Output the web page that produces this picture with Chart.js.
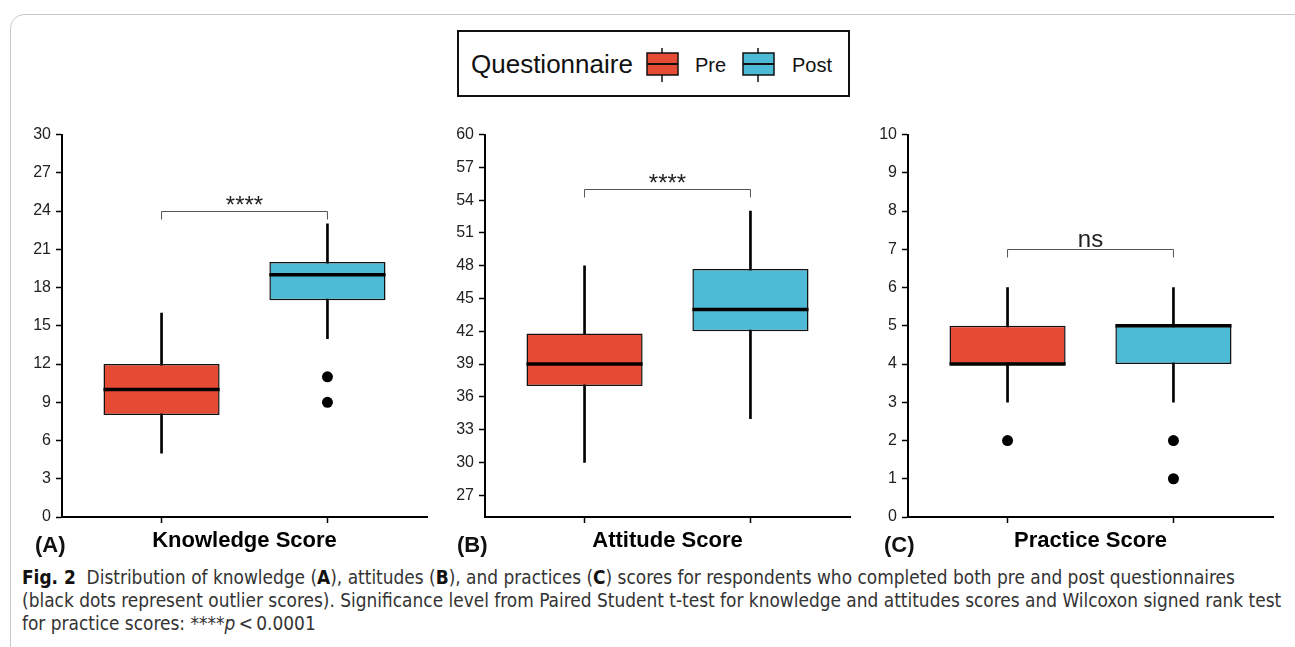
<!DOCTYPE html>
<html lang="en">
<head>
<meta charset="UTF-8">
<title>Fig. 2 - Knowledge, attitude and practice scores</title>
<script src="https://cdn.jsdelivr.net/npm/chart.js"></script>
<style>
  * { margin: 0; padding: 0; box-sizing: border-box; }
  body {
    width: 1295px; height: 647px; overflow: hidden; position: relative;
    background: #fff; font-family: 'Liberation Sans', Arial, sans-serif; color: #111;
  }
  .frame {
    position: absolute; left: 10px; top: 14px; width: 1300px; height: 700px;
    border: 1px solid #c9c9c9; border-radius: 14px;
  }
  .panel { position: absolute; top: 120px; }
  .tag { position: absolute; top: 532px; font-weight: bold; font-size: 22px; }
  .legend {
    position: absolute; left: 457px; top: 30px; width: 393px; height: 67px;
    border: 2px solid #111;
  }
  .legend span { position: absolute; white-space: nowrap; }
  .legend svg { position: absolute; }
  .caption {
    position: absolute; left: 22px; top: 566px; width: 1270px;
    font-family: 'Liberation Sans Narrow', 'DejaVu Sans Condensed', sans-serif;
    font-size: 18.9px; line-height: 23px; color: #333; white-space: nowrap;
  }
  .caption b { color: #111; }
</style>
</head>
<body>
<div class="frame"></div>

<div class="legend">
  <span style="left:12px; top:17px; font-size:26px;">Questionnaire</span>
  <svg style="left:181px; top:14px;" width="40" height="38">
    <line x1="22" y1="2" x2="22" y2="36" stroke="#111" stroke-width="1.5"/>
    <rect x="7" y="7" width="31" height="22" fill="#E64B35" stroke="#111" stroke-width="1.5"/>
    <line x1="7" y1="18" x2="38" y2="18" stroke="#111" stroke-width="2"/>
  </svg>
  <span style="left:236px; top:22px; font-size:20px;">Pre</span>
  <svg style="left:277px; top:14px;" width="40" height="38">
    <line x1="22" y1="2" x2="22" y2="36" stroke="#111" stroke-width="1.5"/>
    <rect x="7" y="7" width="31" height="22" fill="#4DBBD5" stroke="#111" stroke-width="1.5"/>
    <line x1="7" y1="18" x2="38" y2="18" stroke="#111" stroke-width="2"/>
  </svg>
  <span style="left:333px; top:22px; font-size:20px;">Post</span>
</div>

<canvas id="panel0" class="panel" style="left:0px" width="440" height="440"></canvas>
<canvas id="panel1" class="panel" style="left:423px" width="440" height="440"></canvas>
<canvas id="panel2" class="panel" style="left:846px" width="440" height="440"></canvas>

<div class="tag" style="left:35px">(A)</div>
<div class="tag" style="left:457px">(B)</div>
<div class="tag" style="left:884px">(C)</div>

<div class="caption">
  <b>Fig. 2</b>&nbsp; Distribution of knowledge (<b>A</b>), attitudes (<b>B</b>), and practices (<b>C</b>) scores for respondents who completed both pre and post questionnaires<br>
  (black dots represent outlier scores). Significance level from Paired Student t-test for knowledge and attitudes scores and Wilcoxon signed rank test<br>
  for practice scores: ****<i>p</i>&thinsp;&lt;&thinsp;0.0001
</div>

<script>
// groups and panels
const groups = ['Pre', 'Post'];
const groupColors = ['#E64B35', '#4DBBD5'];
const panelTitles = ['Knowledge Score', 'Attitude Score', 'Practice Score'];

// box statistics per panel, [Pre, Post]
const whiskerLow  = [[5, 14], [30, 34], [3, 3]];
const q1          = [[8, 17], [37, 42], [4, 4]];
const medians     = [[10, 19], [39, 44], [4, 5]];
const q3          = [[12, 20], [41.8, 47.7], [5, 5]];
const whiskerHigh = [[16, 23], [48, 53], [6, 6]];
const outliers    = [[[], [11, 9]], [[], []], [[2], [2, 1]]];

// y axes
const yMin = [0, 25, 0];
const yMax = [30, 60, 10];
const yTicks = [
  [0, 3, 6, 9, 12, 15, 18, 21, 24, 27, 30],
  [27, 30, 33, 36, 39, 42, 45, 48, 51, 54, 57, 60],
  [0, 1, 2, 3, 4, 5, 6, 7, 8, 9, 10]
];

// significance brackets
const sigLevel = [24, 55, 7];
const sigLabel = ['****', '****', 'ns'];

const FONT = "'Liberation Sans', Arial, sans-serif";

// medians and significance brackets, placed with the chart's own scales
const boxExtras = {
  id: 'boxExtras',
  afterDatasetsDraw(chart, args, opts) {
    const p = opts.panel;
    const { ctx } = chart;
    const x = chart.scales.x, y = chart.scales.y;
    const boxes = chart.getDatasetMeta(1).data;

    ctx.save();
    ctx.strokeStyle = '#000';
    ctx.lineWidth = 3.5;
    boxes.forEach((bar, i) => {
      const py = y.getPixelForValue(medians[p][i]);
      ctx.beginPath();
      ctx.moveTo(bar.x - bar.width / 2, py);
      ctx.lineTo(bar.x + bar.width / 2, py);
      ctx.stroke();
    });

    const x1 = x.getPixelForValue(1), x2 = x.getPixelForValue(2);
    const by = Math.round(y.getPixelForValue(sigLevel[p])) + 0.5;
    ctx.strokeStyle = '#555';
    ctx.lineWidth = 1;
    ctx.beginPath();
    ctx.moveTo(x1, by + 8); ctx.lineTo(x1, by); ctx.lineTo(x2, by); ctx.lineTo(x2, by + 8);
    ctx.stroke();

    const isStars = sigLabel[p] === '****';
    ctx.fillStyle = '#222';
    ctx.textAlign = 'center';
    ctx.textBaseline = 'alphabetic';
    ctx.font = (isStars ? '24px ' : '24px ') + FONT;
    ctx.fillText(sigLabel[p], (x1 + x2) / 2, by + (isStars ? 1 : -3));
    ctx.restore();
  }
};

function makeChart(p) {
  const boxData = groups.map((g, i) => ({ x: i + 1, y: [q1[p][i], q3[p][i]] }));
  const whiskerData = groups.map((g, i) => ({ x: i + 1, y: [whiskerLow[p][i], whiskerHigh[p][i]] }));
  const outlierData = [];
  outliers[p].forEach((list, i) => list.forEach(v => outlierData.push({ x: i + 1, y: v })));

  new Chart(document.getElementById('panel' + p), {
    type: 'bar',
    data: {
      datasets: [
        { type: 'scatter', label: 'Outliers', data: outlierData, pointRadius: 5.5,
          backgroundColor: '#000', borderWidth: 0, order: 0 },
        { label: 'Box', data: boxData, backgroundColor: groupColors, borderColor: '#111',
          borderWidth: 1.5, borderSkipped: false, barPercentage: 0.7, categoryPercentage: 1,
          grouped: false, order: 1 },
        { label: 'Whisker', data: whiskerData, backgroundColor: '#000', barThickness: 2,
          grouped: false, order: 2 }
      ]
    },
    options: {
      responsive: false,
      animation: false,
      layout: { padding: { top: 12, right: 13, left: 0, bottom: 0 } },
      plugins: {
        legend: { display: false },
        tooltip: { enabled: false },
        boxExtras: { panel: p }
      },
      scales: {
        x: {
          type: 'linear', min: 0.4, max: 2.6, offset: false,
          afterBuildTicks: s => { s.ticks = groups.map((g, i) => ({ value: i + 1 })); },
          ticks: { callback: () => '' },
          grid: { offset: false, drawOnChartArea: false, tickLength: 6, tickColor: '#000', tickWidth: 1.5 },
          border: { color: '#000', width: 2 },
          title: { display: true, text: panelTitles[p], color: '#000',
                   font: { family: FONT, size: 22, weight: 'bold' }, padding: { top: 0, bottom: 6 } },
          afterFit: s => { s.height = 43; }
        },
        y: {
          min: yMin[p], max: yMax[p],
          afterBuildTicks: s => { s.ticks = yTicks[p].map(v => ({ value: v })); },
          ticks: { color: '#222', padding: 5, font: { family: FONT, size: 16 } },
          grid: { drawOnChartArea: false, tickLength: 6, tickColor: '#000', tickWidth: 1.5 },
          border: { color: '#000', width: 2 },
          afterFit: s => { s.width = 62; }
        }
      }
    },
    plugins: [boxExtras]
  });
}

[0, 1, 2].forEach(makeChart);
</script>
</body>
</html>
